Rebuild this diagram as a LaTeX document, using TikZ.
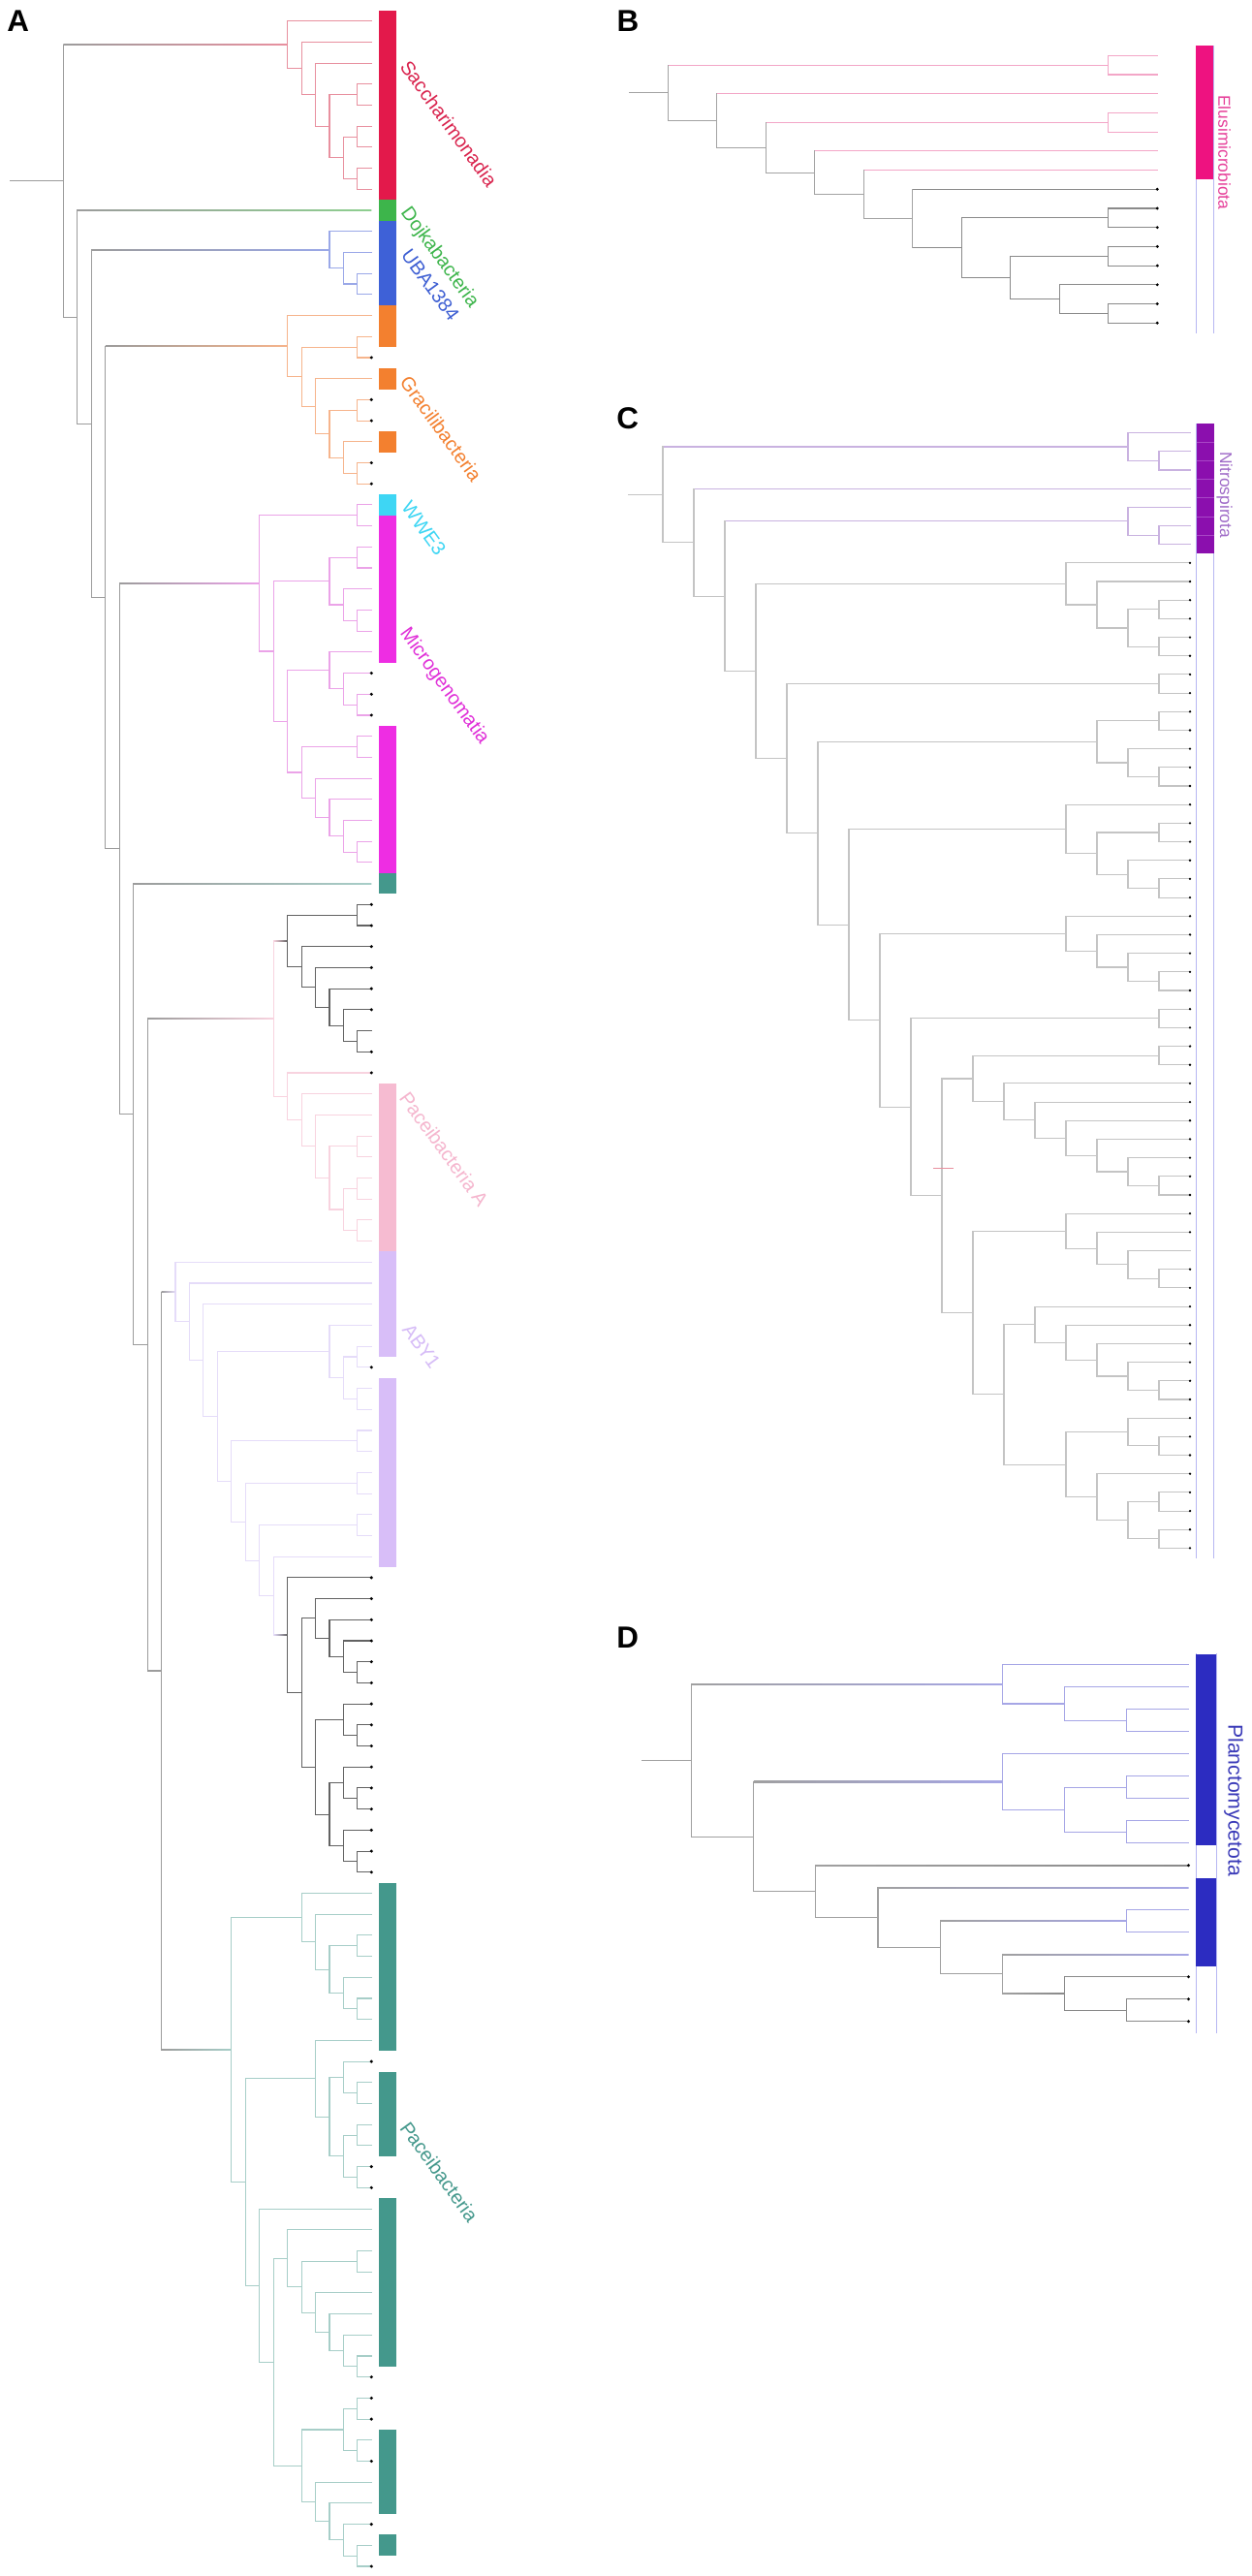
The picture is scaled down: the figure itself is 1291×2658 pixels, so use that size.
\documentclass[tikz,border=0pt]{standalone}
\usepackage{fontspec}
\setmainfont{Liberation Sans}
\usetikzlibrary{calc}
% line colours
\definecolor{gy}{HTML}{9C9C9C}
\definecolor{gyB}{HTML}{A3A3A3}
\definecolor{gyD}{HTML}{A0A0A0}
\definecolor{dk}{HTML}{626262}
\definecolor{dkB}{HTML}{8A8A8A}
\definecolor{cG}{HTML}{C4C4C4}
\definecolor{sacL}{HTML}{E8909F}
\definecolor{dojL}{HTML}{8ECF90}
\definecolor{ubaL}{HTML}{9AA8E8}
\definecolor{graL}{HTML}{F6B48C}
\definecolor{micL}{HTML}{EBA3E8}
\definecolor{teaL}{HTML}{A7CEC8}
\definecolor{pcaL}{HTML}{F8D3DF}
\definecolor{abyL}{HTML}{E5DCF9}
\definecolor{eluL}{HTML}{F3A6C7}
\definecolor{nitL}{HTML}{C9B2E0}
\definecolor{plaL}{HTML}{A6A6E6}
% bar colours
\definecolor{sacB}{HTML}{E3194B}
\definecolor{dojB}{HTML}{3DB54B}
\definecolor{ubaB}{HTML}{3E61D7}
\definecolor{graB}{HTML}{F3802F}
\definecolor{wweB}{HTML}{3ED6F4}
\definecolor{micB}{HTML}{EE2DE3}
\definecolor{teaB}{HTML}{44988C}
\definecolor{pcaB}{HTML}{F6BBD1}
\definecolor{abyB}{HTML}{D8BEF8}
\definecolor{eluB}{HTML}{EE1280}
\definecolor{nitB}{HTML}{8B0FAE}
\definecolor{nitS}{HTML}{A847C6}
\definecolor{plaB}{HTML}{2C2CC1}
\definecolor{outl}{HTML}{B6B6F2}
% label colours
\definecolor{sacT}{HTML}{D9234D}
\definecolor{dojT}{HTML}{3DB54B}
\definecolor{ubaT}{HTML}{3E5FD3}
\definecolor{graT}{HTML}{F3802F}
\definecolor{wweT}{HTML}{3ED6F4}
\definecolor{micT}{HTML}{E02FD8}
\definecolor{pcaT}{HTML}{F5B6CE}
\definecolor{abyT}{HTML}{D6BCF7}
\definecolor{teaT}{HTML}{44988C}
\definecolor{eluT}{HTML}{E6409A}
\definecolor{nitT}{HTML}{A06CC8}
\definecolor{plaT}{HTML}{3A3AB8}

\newif\ifgrad
\def\lw{0.55pt}
\def\lwh{0.275pt}
\newcommand\setpanel[7]{\def\Ptx{#1}\def\Pst{#2}\def\Pyo{#3}\def\Pdy{#4}\def\Pdr{#5}\def\PbA{#6}\def\PbB{#7}}
\newcommand\Tp[3]{\coordinate (#1) at ({\Ptx},{\Pyo+\Pdy*(#2-1)});\expandafter\xdef\csname ncX#1\endcsname{#3}}
\newcommand\dotlist{}
\newcommand\Tpd[3]{\Tp{#1}{#2}{#3}\xdef\dotlist{\unexpanded\expandafter{\dotlist}\noexpand\onedot{#1}}}
\newcommand\onedot[1]{\fill[black] (#1) circle[radius=\Pdr];}
\newcommand\flushdots{\dotlist\gdef\dotlist{}}
\newcommand\edgeP[3]{%
  \edef\ecB{\csname ncX#2\endcsname}\def\ecA{#3}%
  \ifx\ecA\ecB
    \draw[line width=\lw,color=#3] (#1 |- #2) -- (#2);%
  \else
    \ifgrad
      \shade[left color=#3,right color=\ecB] let \p1=(#1),\p2=(#2) in (\x1,{\y2-\lwh}) rectangle (\x2,{\y2+\lwh});%
    \else
      \draw[line width=\lw,color=\ecB] (#1 |- #2) -- (#2);%
    \fi
  \fi}
\newcommand\Nd[5]{%
  \path let \p1=(#3),\p2=(#4) in ({(\Ptx-\Pst*#2)*0.5pt},{0.5*(\y1+\y2)}) coordinate (#1);%
  \expandafter\xdef\csname ncX#1\endcsname{#5}%
  \edgeP{#1}{#3}{#5}\edgeP{#1}{#4}{#5}%
  \draw[line width=\lw,color=#5] (#1 |- #3) -- (#1 |- #4);}
\newcommand\clbar[3]{\fill[#3] (\PbA,{\Pyo+\Pdy*(#1-1.5)}) rectangle (\PbB,{\Pyo+\Pdy*(#2-0.5)});}
\newcommand\olbar[2]{\draw[outl,line width=0.5pt] (\PbA,{\Pyo+\Pdy*(#1-1.5)}) -- (\PbA,{\Pyo+\Pdy*(#2-0.5)}) (\PbB,{\Pyo+\Pdy*(#1-1.5)}) -- (\PbB,{\Pyo+\Pdy*(#2-0.5)});}

\begin{document}
\begin{tikzpicture}[x=0.5pt,y=-0.5pt,line cap=rect,
  lab/.style={font=\fontsize{10}{12}\selectfont,inner sep=0pt},
  vlab/.style={rotate=-90,inner sep=0pt},
  pl/.style={font=\fontsize{15.7}{18}\selectfont\bfseries,anchor=base west,inner sep=0pt}]
\fill[white] (0,0) rectangle (1291,2658);
\useasboundingbox (0,0) rectangle (1291,2658);

% ================= Panel A =================
\setpanel{383.3}{14.45}{21.705}{21.705}{0.85pt}{390.7}{409.3}
\gradtrue
\foreach \i in {1,...,9}{\Tp{a\i}{\i}{sacL}}
\Tp{a10}{10}{dojL}
\foreach \i in {11,...,14}{\Tp{a\i}{\i}{ubaL}}
\foreach \i in {15,16,18,21}{\Tp{a\i}{\i}{graL}}
\foreach \i in {17,19,20,22,23}{\Tpd{a\i}{\i}{graL}}
\foreach \i in {24,...,31}{\Tp{a\i}{\i}{micL}}
\foreach \i in {35,...,41}{\Tp{a\i}{\i}{micL}}
\foreach \i in {32,33,34}{\Tpd{a\i}{\i}{micL}}
\Tp{a42}{42}{teaL}
\foreach \i in {43,44,45,46,47,48,50}{\Tpd{a\i}{\i}{dk}}
\Tp{a49}{49}{dk}
\Tpd{a51}{51}{pcaL}
\foreach \i in {52,...,59}{\Tp{a\i}{\i}{pcaL}}
\foreach \i in {60,...,64}{\Tp{a\i}{\i}{abyL}}
\Tpd{a65}{65}{abyL}
\foreach \i in {66,...,74}{\Tp{a\i}{\i}{abyL}}
\foreach \i in {75,...,89}{\Tpd{a\i}{\i}{dk}}
\foreach \i in {90,...,97}{\Tp{a\i}{\i}{teaL}}
\foreach \i in {99,...,102}{\Tp{a\i}{\i}{teaL}}
\foreach \i in {105,...,112}{\Tp{a\i}{\i}{teaL}}
\foreach \i in {116,118,119,121}{\Tp{a\i}{\i}{teaL}}
\foreach \i in {98,103,104,113,114,115,117,120,122}{\Tpd{a\i}{\i}{teaL}}
% Saccharimonadia
\Nd{s1}{1}{a4}{a5}{sacL}
\Nd{s2}{1}{a6}{a7}{sacL}
\Nd{s3}{1}{a8}{a9}{sacL}
\Nd{s4}{2}{s2}{s3}{sacL}
\Nd{s5}{3}{s1}{s4}{sacL}
\Nd{s6}{4}{a3}{s5}{sacL}
\Nd{s7}{5}{a2}{s6}{sacL}
\Nd{s8}{6}{a1}{s7}{sacL}
% UBA1384
\Nd{u1}{1}{a13}{a14}{ubaL}
\Nd{u2}{2}{a12}{u1}{ubaL}
\Nd{u3}{3}{a11}{u2}{ubaL}
% Gracilibacteria
\Nd{g1}{1}{a16}{a17}{graL}
\Nd{g2}{1}{a19}{a20}{graL}
\Nd{g3}{1}{a22}{a23}{graL}
\Nd{g4}{2}{a21}{g3}{graL}
\Nd{g5}{3}{g2}{g4}{graL}
\Nd{g6}{4}{a18}{g5}{graL}
\Nd{g7}{5}{g1}{g6}{graL}
\Nd{g8}{6}{a15}{g7}{graL}
% WWE3 / Microgenomatia
\Nd{m1}{1}{a24}{a25}{micL}
\Nd{m2}{1}{a26}{a27}{micL}
\Nd{m3}{1}{a29}{a30}{micL}
\Nd{m4}{2}{a28}{m3}{micL}
\Nd{m5}{3}{m2}{m4}{micL}
\Nd{m6}{1}{a33}{a34}{micL}
\Nd{m7}{2}{a32}{m6}{micL}
\Nd{m8}{3}{a31}{m7}{micL}
\Nd{m9}{1}{a35}{a36}{micL}
\Nd{m10}{1}{a40}{a41}{micL}
\Nd{m11}{2}{a39}{m10}{micL}
\Nd{m12}{3}{a38}{m11}{micL}
\Nd{m13}{4}{a37}{m12}{micL}
\Nd{m14}{5}{m9}{m13}{micL}
\Nd{m15}{6}{m8}{m14}{micL}
\Nd{m16}{7}{m5}{m15}{micL}
\Nd{m17}{8}{m1}{m16}{micL}
% Paceibacteria A group
\Nd{p1}{1}{a43}{a44}{dk}
\Nd{p2}{1}{a49}{a50}{dk}
\Nd{p3}{2}{a48}{p2}{dk}
\Nd{p4}{3}{a47}{p3}{dk}
\Nd{p5}{4}{a46}{p4}{dk}
\Nd{p6}{5}{a45}{p5}{dk}
\Nd{p7}{6}{p1}{p6}{dk}
\Nd{p8}{1}{a54}{a55}{pcaL}
\Nd{p9}{1}{a56}{a57}{pcaL}
\Nd{p10}{1}{a58}{a59}{pcaL}
\Nd{p11}{2}{p9}{p10}{pcaL}
\Nd{p12}{3}{p8}{p11}{pcaL}
\Nd{p13}{4}{a53}{p12}{pcaL}
\Nd{p14}{5}{a52}{p13}{pcaL}
\Nd{p15}{6}{a51}{p14}{pcaL}
\Nd{p16}{7}{p7}{p15}{pcaL}
% ABY1 group
\Nd{b1}{1}{a64}{a65}{abyL}
\Nd{b2}{1}{a66}{a67}{abyL}
\Nd{b3}{2}{b1}{b2}{abyL}
\Nd{b4}{3}{a63}{b3}{abyL}
\Nd{b5}{1}{a68}{a69}{abyL}
\Nd{b6}{1}{a70}{a71}{abyL}
\Nd{b7}{1}{a72}{a73}{abyL}
\Nd{d1}{1}{a79}{a80}{dk}
\Nd{d2}{2}{a78}{d1}{dk}
\Nd{d3}{3}{a77}{d2}{dk}
\Nd{d4}{4}{a76}{d3}{dk}
\Nd{d5}{1}{a82}{a83}{dk}
\Nd{d6}{2}{a81}{d5}{dk}
\Nd{d7}{1}{a85}{a86}{dk}
\Nd{d8}{2}{a84}{d7}{dk}
\Nd{d9}{1}{a88}{a89}{dk}
\Nd{d10}{2}{a87}{d9}{dk}
\Nd{d11}{3}{d8}{d10}{dk}
\Nd{d12}{4}{d6}{d11}{dk}
\Nd{d13}{5}{d4}{d12}{dk}
\Nd{d14}{6}{a75}{d13}{dk}
\Nd{b8}{7}{a74}{d14}{abyL}
\Nd{b9}{8}{b7}{b8}{abyL}
\Nd{b10}{9}{b6}{b9}{abyL}
\Nd{b11}{10}{b5}{b10}{abyL}
\Nd{b12}{11}{b4}{b11}{abyL}
\Nd{b13}{12}{a62}{b12}{abyL}
\Nd{b14}{13}{a61}{b13}{abyL}
\Nd{b15}{14}{a60}{b14}{abyL}
% Paceibacteria
\Nd{t1}{1}{a92}{a93}{teaL}
\Nd{t2}{1}{a95}{a96}{teaL}
\Nd{t3}{2}{a94}{t2}{teaL}
\Nd{t4}{3}{t1}{t3}{teaL}
\Nd{t5}{4}{a91}{t4}{teaL}
\Nd{t6}{5}{a90}{t5}{teaL}
\Nd{t7}{1}{a99}{a100}{teaL}
\Nd{t8}{2}{a98}{t7}{teaL}
\Nd{t9}{1}{a101}{a102}{teaL}
\Nd{t10}{1}{a103}{a104}{teaL}
\Nd{t11}{2}{t9}{t10}{teaL}
\Nd{t12}{3}{t8}{t11}{teaL}
\Nd{t13}{4}{a97}{t12}{teaL}
\Nd{t14}{1}{a107}{a108}{teaL}
\Nd{t15}{1}{a112}{a113}{teaL}
\Nd{t16}{2}{a111}{t15}{teaL}
\Nd{t17}{3}{a110}{t16}{teaL}
\Nd{t18}{4}{a109}{t17}{teaL}
\Nd{t19}{5}{t14}{t18}{teaL}
\Nd{t20}{6}{a106}{t19}{teaL}
\Nd{t21}{1}{a114}{a115}{teaL}
\Nd{t22}{1}{a116}{a117}{teaL}
\Nd{t23}{2}{t21}{t22}{teaL}
\Nd{t24}{1}{a121}{a122}{teaL}
\Nd{t25}{2}{a120}{t24}{teaL}
\Nd{t26}{3}{a119}{t25}{teaL}
\Nd{t27}{4}{a118}{t26}{teaL}
\Nd{t28}{5}{t23}{t27}{teaL}
\Nd{t29}{7}{t20}{t28}{teaL}
\Nd{t30}{8}{a105}{t29}{teaL}
\Nd{t31}{9}{t13}{t30}{teaL}
\Nd{t32}{10}{t6}{t31}{teaL}
% backbone
\Nd{r15}{15}{b15}{t32}{gy}
\Nd{r16}{16}{p16}{r15}{gy}
\Nd{r17}{17}{a42}{r16}{gy}
\Nd{r18}{18}{m17}{r17}{gy}
\Nd{r19}{19}{g8}{r18}{gy}
\Nd{r20}{20}{u3}{r19}{gy}
\Nd{r21}{21}{a10}{r20}{gy}
\Nd{r22}{22}{s8}{r21}{gy}
\coordinate (As) at (11,0);
\draw[gy,line width=\lw] (As |- r22) -- (r22);
\flushdots
% bars
\clbar{1}{9}{sacB}
\clbar{10}{10}{dojB}
\clbar{11}{14}{ubaB}
\clbar{15}{16}{graB}
\clbar{18}{18}{graB}
\clbar{21}{21}{graB}
\clbar{24}{24}{wweB}
\clbar{25}{31}{micB}
\clbar{35}{41}{micB}
\clbar{42}{42}{teaB}
\clbar{52}{59}{pcaB}
\clbar{60}{64}{abyB}
\clbar{66}{74}{abyB}
\clbar{90}{97}{teaB}
\clbar{99}{102}{teaB}
\clbar{105}{112}{teaB}
\clbar{116}{119}{teaB}
\clbar{121}{121}{teaB}
% labels
\node[lab,rotate=-54,text=sacT] (lSac) at (463.3,127.5) {Saccharimonadia};
\node[lab,rotate=-54,text=dojT] (lDoj) at (453.3,265.8) {Dojkabacteria};
\node[lab,rotate=-54,text=ubaT] (lUba) at (444.2,294.2) {UBA1384};
\node[lab,rotate=-54,text=graT] (lGra) at (455.2,442.5) {Gracilibacteria};
\node[lab,rotate=-54,text=wweT] (lWwe) at (437.5,545) {WWE3};
\node[lab,rotate=-54,text=micT] (lMic) at (458.3,708.3) {Microgenomatia};
\node[lab,rotate=-54,text=pcaT] (lPca) at (458.3,1185.8) {Paceibacteria A};
\node[lab,rotate=-54,text=abyT] (lAby) at (435,1389) {ABY1};
\node[lab,rotate=-54,text=teaT] (lTea) at (453.3,2240.8) {Paceibacteria};
\node[pl] (lA) at (7,33) {A};

% ================= Panel B =================
\setpanel{1194.3}{50.5}{57.3}{19.71}{0.8pt}{1234}{1252}
\gradfalse
\foreach \i in {1,...,7}{\Tp{B\i}{\i}{eluL}}
\foreach \i in {8,...,15}{\Tpd{B\i}{\i}{dkB}}
\Nd{Bc1}{1}{B1}{B2}{eluL}
\Nd{Bc2}{1}{B4}{B5}{eluL}
\Nd{Bc7}{1}{B9}{B10}{dkB}
\Nd{Bc5}{1}{B11}{B12}{dkB}
\Nd{Bc3}{1}{B14}{B15}{dkB}
\Nd{Bn2}{2}{B13}{Bc3}{dkB}
\Nd{Bn3}{3}{Bc5}{Bn2}{dkB}
\Nd{Bn4}{4}{Bc7}{Bn3}{dkB}
\Nd{Bn5}{5}{B8}{Bn4}{gyB}
\Nd{Bn6}{6}{B7}{Bn5}{gyB}
\Nd{Bn7}{7}{B6}{Bn6}{gyB}
\Nd{Bn8}{8}{Bc2}{Bn7}{gyB}
\Nd{Bn9}{9}{B3}{Bn8}{gyB}
\Nd{Bn10}{10}{Bc1}{Bn9}{gyB}
\coordinate (Bs) at (650,0);
\draw[gyB,line width=\lw] (Bs |- Bn10) -- (Bn10);
\flushdots
\olbar{1}{15}
\clbar{1}{7}{eluB}
\node[vlab,text=eluT,font=\fontsize{8.7}{10}\selectfont] (lElu) at (1263.5,157.3) {Elusimicrobiota};
\node[pl] (lB) at (636.3,32.3) {B};

% ================= Panel C =================
\setpanel{1228}{32}{446.6}{19.18}{0.65pt}{1234.9}{1252.5}
\gradfalse
\foreach \i in {1,...,7}{\Tp{C\i}{\i}{nitL}}
\foreach \i in {8,...,44}{\Tpd{C\i}{\i}{cG}}
\Tp{C45}{45}{cG}
\foreach \i in {46,...,61}{\Tpd{C\i}{\i}{cG}}
\Nd{Ca}{1}{C2}{C3}{nitL}
\Nd{Cb}{2}{C1}{Ca}{nitL}
\Nd{Cc}{1}{C6}{C7}{nitL}
\Nd{Cd}{2}{C5}{Cc}{nitL}
\Nd{Ce}{1}{C10}{C11}{cG}
\Nd{Cf}{1}{C12}{C13}{cG}
\Nd{Cg}{2}{Ce}{Cf}{cG}
\Nd{Ch}{3}{C9}{Cg}{cG}
\Nd{Ci}{4}{C8}{Ch}{cG}
\Nd{Cj}{1}{C14}{C15}{cG}
\Nd{Ck}{1}{C16}{C17}{cG}
\Nd{Cl}{1}{C19}{C20}{cG}
\Nd{Cm}{2}{C18}{Cl}{cG}
\Nd{Cn}{3}{Ck}{Cm}{cG}
\Nd{Co}{1}{C22}{C23}{cG}
\Nd{Cp}{1}{C25}{C26}{cG}
\Nd{Cq}{2}{C24}{Cp}{cG}
\Nd{Cr}{3}{Co}{Cq}{cG}
\Nd{Cs}{4}{C21}{Cr}{cG}
\Nd{Ct}{1}{C30}{C31}{cG}
\Nd{Cu}{2}{C29}{Ct}{cG}
\Nd{Cv}{3}{C28}{Cu}{cG}
\Nd{Cw}{4}{C27}{Cv}{cG}
\Nd{Cx}{1}{C32}{C33}{cG}
\Nd{Cy}{1}{C34}{C35}{cG}
\Nd{Cz}{1}{C41}{C42}{cG}
\Nd{CA}{2}{C40}{Cz}{cG}
\Nd{CB}{3}{C39}{CA}{cG}
\Nd{CC}{4}{C38}{CB}{cG}
\Nd{CD}{5}{C37}{CC}{cG}
\Nd{CE}{6}{C36}{CD}{cG}
\Nd{CF}{7}{Cy}{CE}{cG}
\Nd{CG}{1}{C46}{C47}{cG}
\Nd{CH}{2}{C45}{CG}{cG}
\Nd{CI}{3}{C44}{CH}{cG}
\Nd{CJ}{4}{C43}{CI}{cG}
\Nd{CK}{1}{C52}{C53}{cG}
\Nd{CL}{2}{C51}{CK}{cG}
\Nd{CM}{3}{C50}{CL}{cG}
\Nd{CN}{4}{C49}{CM}{cG}
\Nd{CO}{5}{C48}{CN}{cG}
\Nd{CP}{1}{C55}{C56}{cG}
\Nd{CQ}{2}{C54}{CP}{cG}
\Nd{CR}{1}{C58}{C59}{cG}
\Nd{CS}{1}{C60}{C61}{cG}
\Nd{CT}{2}{CR}{CS}{cG}
\Nd{CU}{3}{C57}{CT}{cG}
\Nd{CV}{4}{CQ}{CU}{cG}
\Nd{CW}{6}{CO}{CV}{cG}
\Nd{CX}{7}{CJ}{CW}{cG}
\Nd{CY}{8}{CF}{CX}{cG}
\Nd{CZ}{9}{Cx}{CY}{cG}
\Nd{C10n}{10}{Cw}{CZ}{cG}
\Nd{C11n}{11}{Cs}{C10n}{cG}
\Nd{C12n}{12}{Cn}{C11n}{cG}
\Nd{C13n}{13}{Cj}{C12n}{cG}
\Nd{C14n}{14}{Ci}{C13n}{cG}
\Nd{C15n}{15}{Cd}{C14n}{cG}
\Nd{C16n}{16}{C4}{C15n}{cG}
\Nd{C17n}{17}{Cb}{C16n}{cG}
\coordinate (Cs0) at (649,0);
\draw[cG,line width=\lw] (Cs0 |- C17n) -- (C17n);
\coordinate (tickL) at (963.6,1205.2);
\coordinate (tickR) at (982.9,1205.2);
\draw[sacL,line width=0.6pt] (tickL) -- (tickR);
\flushdots
\olbar{1}{61}
\clbar{1}{7}{nitB}
\foreach \j in {1,...,6}{\draw[nitS,line width=0.35pt] (\PbA,{\Pyo+\Pdy*(\j-0.5)}) -- (\PbB,{\Pyo+\Pdy*(\j-0.5)});}
\node[vlab,text=nitT,font=\fontsize{8.7}{10}\selectfont] (lNit) at (1263.5,510.6) {Nitrospirota};
\node[pl] (lC) at (636,443) {C};

% ================= Panel D =================
\setpanel{1226.5}{64.1}{1717.7}{23.0}{0.85pt}{1234}{1255.3}
\gradtrue
\foreach \i in {1,...,9}{\Tp{D\i}{\i}{plaL}}
\foreach \i in {11,...,14}{\Tp{D\i}{\i}{plaL}}
\foreach \i in {10,15,16,17}{\Tpd{D\i}{\i}{dkB}}
\Nd{Da}{1}{D3}{D4}{plaL}
\Nd{Db}{2}{D2}{Da}{plaL}
\Nd{Dc}{3}{D1}{Db}{plaL}
\Nd{Dd}{1}{D6}{D7}{plaL}
\Nd{De}{1}{D8}{D9}{plaL}
\Nd{Df}{2}{Dd}{De}{plaL}
\Nd{Dg}{3}{D5}{Df}{plaL}
\Nd{Dh}{1}{D12}{D13}{plaL}
\Nd{Di}{1}{D16}{D17}{dkB}
\Nd{Dj}{2}{D15}{Di}{dkB}
\Nd{Dk}{3}{D14}{Dj}{gyD}
\Nd{Dl}{4}{Dh}{Dk}{gyD}
\Nd{Dm}{5}{D11}{Dl}{gyD}
\Nd{Dn}{6}{D10}{Dm}{gyD}
\Nd{Do}{7}{Dg}{Dn}{gyD}
\Nd{Dp}{8}{Dc}{Do}{gyD}
\coordinate (Ds) at (662.8,0);
\draw[gyD,line width=\lw] (Ds |- Dp) -- (Dp);
\flushdots
\olbar{1}{17}
\fill[plaB] (\PbA,1706.7) rectangle (\PbB,1904.3);
\fill[plaB] (\PbA,1937.7) rectangle (\PbB,2029.3);
\node[vlab,text=plaT,font=\fontsize{10.6}{12}\selectfont] (lPla) at (1273,1857.5) {Planctomycetota};
\node[pl] (lD) at (636,1700) {D};
\end{tikzpicture}
\end{document}
